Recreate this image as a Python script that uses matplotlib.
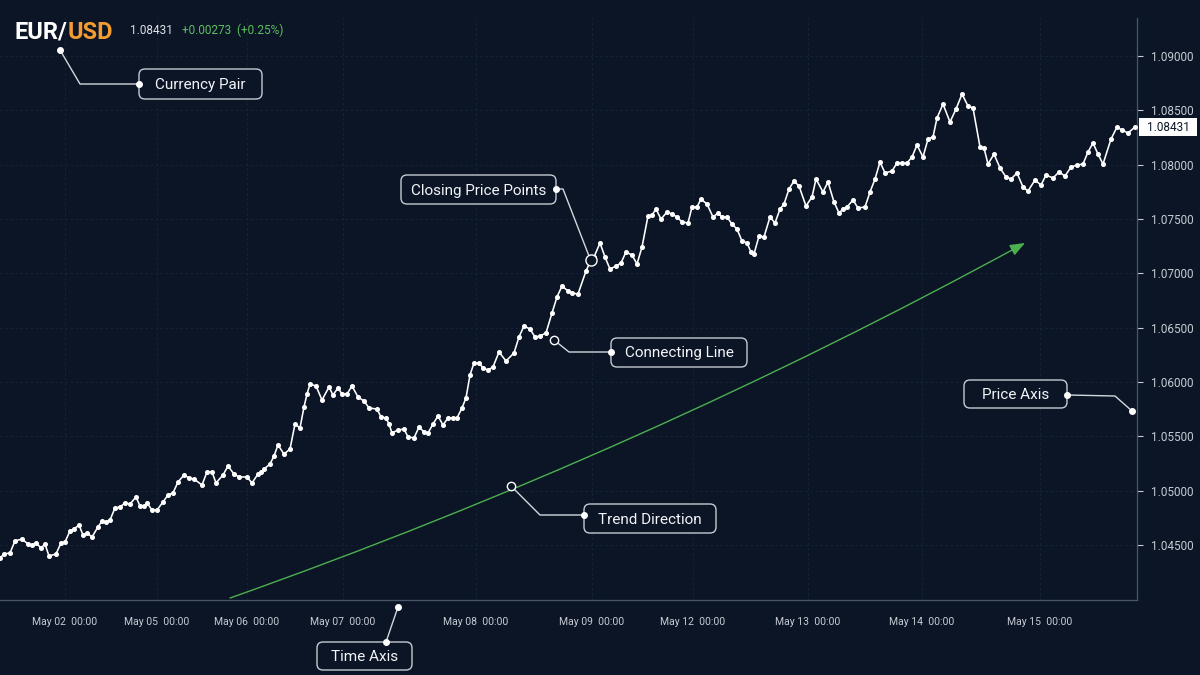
import matplotlib.pyplot as plt
from matplotlib.patches import FancyBboxPatch

plt.rcParams['font.family'] = ['Roboto', 'DejaVu Sans']

# session time (arbitrary units along the time axis) and closing prices
t = [0, 4, 10, 15, 22, 28, 32, 36, 41, 45, 49, 56, 61, 65, 70, 74, 79, 83, 87, 92,
     98, 102, 106, 110, 115, 120, 125, 130, 136, 140, 144, 147, 152, 157, 163, 168, 173, 178, 184, 189,
     194, 202, 207, 212, 216, 223, 228,
     234, 239, 247, 252, 258, 261, 264, 270, 274, 278, 284, 290, 295, 300, 304, 307, 310, 316, 322, 329,
     333, 338, 342, 347, 352, 358, 364, 369, 377, 381, 386, 389, 392, 398, 404, 408, 414, 419, 424, 428,
     433, 438, 443, 448, 453, 457, 462, 466,
     470, 474, 479, 483, 488, 493, 499, 506, 514, 519, 524, 530, 535, 540, 546, 552, 557, 562, 568, 572,
     578, 586, 591, 594, 600, 605, 610, 616, 621, 626, 632, 637, 642, 648, 652, 656, 661, 667, 672, 677,
     682, 688, 692,
     697, 701, 707, 713, 718, 722, 727, 732, 737, 742, 747, 751, 754, 759, 764, 770, 775, 780, 784, 789,
     794, 799, 806, 812, 816, 823, 828, 834, 839, 843, 847, 853, 858, 865, 870, 875, 880, 885, 892, 897,
     902, 907, 912, 917, 923,
     928, 933, 937, 943, 950, 956, 962, 968, 973, 980, 984, 988, 994, 1000, 1006, 1011, 1017, 1023, 1028, 1035,
     1041, 1046, 1053, 1059, 1065, 1071, 1077, 1083, 1088, 1093, 1098, 1103, 1111, 1117, 1122, 1128, 1135]

price = [1.04382, 1.04418, 1.04428, 1.04538, 1.04556, 1.04510, 1.04501, 1.04520, 1.04474, 1.04510,
         1.04400, 1.04418, 1.04520, 1.04529, 1.04630, 1.04648, 1.04685, 1.04593, 1.04612, 1.04575,
         1.04667, 1.04722, 1.04713, 1.04731, 1.04842, 1.04851, 1.04888, 1.04878, 1.04943, 1.04860,
         1.04860, 1.04888, 1.04823, 1.04823, 1.04897, 1.04961, 1.04980, 1.05081, 1.05145, 1.05118,
         1.05108, 1.05053, 1.05173, 1.05173, 1.05072, 1.05145, 1.05228,
         1.05154, 1.05127, 1.05127, 1.05072, 1.05154, 1.05173, 1.05200, 1.05246, 1.05320, 1.05421,
         1.05338, 1.05384, 1.05614, 1.05578, 1.05771, 1.05890, 1.05982, 1.05964, 1.05835, 1.05955,
         1.05881, 1.05946, 1.05890, 1.05890, 1.05964, 1.05863, 1.05826, 1.05762, 1.05752, 1.05679,
         1.05670, 1.05614, 1.05532, 1.05559, 1.05568, 1.05495, 1.05486, 1.05587, 1.05541, 1.05532,
         1.05614, 1.05688, 1.05605, 1.05670, 1.05670, 1.05670, 1.05762, 1.05854,
         1.06065, 1.06176, 1.06176, 1.06130, 1.06111, 1.06139, 1.06277, 1.06194, 1.06268, 1.06415,
         1.06516, 1.06488, 1.06415, 1.06424, 1.06452, 1.06636, 1.06783, 1.06884, 1.06838, 1.06820,
         1.06810, 1.07022, 1.07123, 1.07151, 1.07280, 1.07151, 1.07040, 1.07068, 1.07096, 1.07197,
         1.07169, 1.07086, 1.07243, 1.07528, 1.07537, 1.07592, 1.07500, 1.07565, 1.07546, 1.07519,
         1.07473, 1.07464, 1.07611,
         1.07611, 1.07684, 1.07638, 1.07519, 1.07556, 1.07519, 1.07519, 1.07454, 1.07408, 1.07298,
         1.07280, 1.07197, 1.07178, 1.07344, 1.07335, 1.07519, 1.07464, 1.07592, 1.07638, 1.07776,
         1.07850, 1.07804, 1.07620, 1.07703, 1.07868, 1.07749, 1.07841, 1.07657, 1.07556, 1.07592,
         1.07611, 1.07675, 1.07602, 1.07611, 1.07749, 1.07868, 1.08025, 1.07924, 1.07942, 1.08016,
         1.08016, 1.08016, 1.08071, 1.08181, 1.08071,
         1.08236, 1.08255, 1.08430, 1.08558, 1.08393, 1.08512, 1.08650, 1.08540, 1.08522, 1.08163,
         1.08154, 1.08006, 1.08098, 1.07970, 1.07887, 1.07868, 1.07924, 1.07795, 1.07758, 1.07859,
         1.07813, 1.07905, 1.07878, 1.07933, 1.07896, 1.07979, 1.07997, 1.08006, 1.08117, 1.08200,
         1.08098, 1.08006, 1.08236, 1.08347, 1.08319, 1.08292, 1.08347]

tick_t = [65, 157, 247, 343, 476, 592, 693, 808, 922, 1040]
tick_labels = ['May 02  00:00', 'May 05  00:00', 'May 06  00:00', 'May 07  00:00', 'May 08  00:00',
               'May 09  00:00', 'May 12  00:00', 'May 13  00:00', 'May 14  00:00', 'May 15  00:00']
y_ticks = [1.045, 1.050, 1.055, 1.060, 1.065, 1.070, 1.075, 1.080, 1.085, 1.090]

last_price = '1.08431'
change = '+0.00273  (+0.25%)'
trend_start = (230, 1.04013)
trend_end = (1025, 1.07280)
marked_point = 117  # point highlighted by the "Closing Price Points" callout

BG = '#0b1526'
FG = '#c6cbd3'
GREEN = '#4caf50'

fig = plt.figure(figsize=(12, 6.75), dpi=100, facecolor=BG)
ax = fig.add_axes([0, 75 / 675, 1137 / 1200, 582 / 675])
ax.set_facecolor(BG)

ax.plot(t, price, color='white', lw=1.15, marker='o', ms=2.6, zorder=3)

ax.annotate('', xy=trend_end, xytext=trend_start,
            arrowprops=dict(arrowstyle='-|>,head_length=0.9,head_width=0.35', color=GREEN, lw=1,
                            connectionstyle='arc3,rad=0.04', shrinkA=0, shrinkB=0))

ax.set_xlim(0, 1137)
ax.set_ylim(1.03995, 1.0935)
ax.yaxis.tick_right()
ax.set_yticks(y_ticks, [f'{v:.5f}' for v in y_ticks])
ax.set_xticks(tick_t, tick_labels)
ax.tick_params(axis='y', colors=FG, labelcolor=FG, length=4, width=0.8, pad=6, labelsize=8.5)
ax.tick_params(axis='x', colors=FG, labelcolor=FG, length=0, pad=12, labelsize=7.5)
ax.grid(True, color='#17243a', lw=0.6, ls=(0, (3, 3)))
for s in ['top', 'left']:
    ax.spines[s].set_visible(False)
for s in ['right', 'bottom']:
    ax.spines[s].set_color('#4a5567')
    ax.spines[s].set_linewidth(0.9)

# overlay in figure pixels for header and callouts
ov = fig.add_axes([0, 0, 1, 1], zorder=5)
ov.set_xlim(0, 1200)
ov.set_ylim(675, 0)
ov.axis('off')
ov.patch.set_alpha(0)


def to_px(x, y):
    dx, dy = ax.transData.transform((x, y))
    return dx, 675 - dy


def callout(label, x0, y0, x1, y1):
    ov.add_patch(FancyBboxPatch((x0, y0), x1 - x0, y1 - y0,
                                boxstyle='round,pad=0,rounding_size=6',
                                fc=BG, ec='#c5cad2', lw=1))
    ov.text((x0 + x1) / 2, (y0 + y1) / 2 + 1, label, ha='center', va='center',
            color='#f2f4f7', fontsize=11)


def link(xs, ys):
    ov.plot(xs, ys, color='#d3d7dd', lw=1)


def dot(x, y):
    ov.plot(x, y, 'o', ms=4, color='white')


def ring(x, y, ms=6):
    ov.plot(x, y, 'o', ms=ms, mfc=BG, mec='white', mew=1)


# header
h1 = ov.text(15, 39, 'EUR/', fontsize=17, fontweight='bold', color='white', va='baseline')
ov.annotate('USD', xy=(1, 0), xycoords=h1, va='bottom', ha='left',
            fontsize=17, fontweight='bold', color='#f39c32')
ov.text(130, 30, last_price, fontsize=8.5, color='#e0e3e8', va='center')
ov.text(182, 30, change, fontsize=8.5, color='#5cbf5f', va='center')

# last price tag
_, ly = to_px(t[-1], price[-1])
ov.add_patch(FancyBboxPatch((1139, ly - 9), 58, 18, boxstyle='square,pad=0', fc='white', ec='none'))
ov.text(1168, ly, last_price, ha='center', va='center', fontsize=8.5, color=BG)

# callouts
callout('Currency Pair', 139, 69, 262, 99)
link([60, 80, 139], [50, 84, 84])
dot(60, 50)
dot(139, 84)

callout('Closing Price Points', 401, 175, 556, 204)
mx, my = to_px(t[marked_point], price[marked_point])
link([556, 563, mx - 2], [189, 189, my - 4])
dot(556, 189)
ring(mx, my, ms=8)

callout('Connecting Line', 611, 338, 747, 367)
link([554, 569, 611], [340, 352, 352])
ring(554, 340)
dot(611, 352)

callout('Trend Direction', 584, 504, 716, 533)
link([511, 540, 584], [486, 515, 515])
ring(511, 486)
dot(584, 515)

callout('Price Axis', 964, 380, 1067, 408)
link([1067, 1115, 1132], [395, 396, 411])
dot(1067, 395)
dot(1132, 411)

callout('Time Axis', 317, 642, 412, 670)
link([398, 386], [607, 642])
dot(398, 607)
dot(386, 642)

fig.savefig('out.png', dpi=100, facecolor=BG)
